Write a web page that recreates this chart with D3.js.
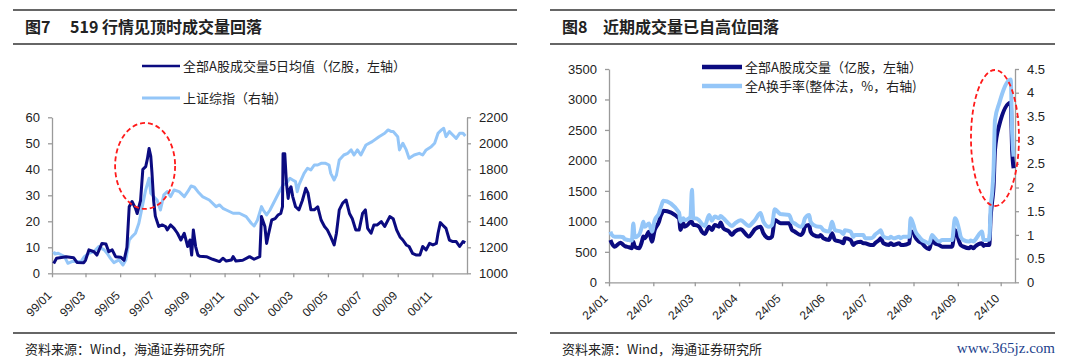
<!DOCTYPE html>
<html><head><meta charset="utf-8">
<script src="https://cdn.jsdelivr.net/npm/d3@7"></script>
<style>
body{margin:0;background:#fff;}
svg{display:block;}
text{font-family:"Liberation Sans",Arial,"Noto Sans CJK SC",sans-serif;fill:#222;}
.cjk{font-family:"Noto Sans CJK SC","Liberation Sans",sans-serif;}
</style></head><body>
<svg id="c" width="1080" height="360"></svg>
<script>
// ---------------- Figure 7 data (1999-2000) ----------------
const volDates = ["1999-01-04","1999-01-09","1999-01-26","1999-02-08","1999-02-14","1999-02-26","1999-03-01","1999-03-07","1999-03-16","1999-03-21","1999-03-30","1999-04-06","1999-04-11","1999-04-17","1999-04-23","1999-05-02","1999-05-08","1999-05-13","1999-05-17","1999-05-22","1999-05-28","1999-05-31","1999-06-06","1999-06-10","1999-06-15","1999-06-18","1999-06-21","1999-06-24","1999-06-26","1999-06-29","1999-07-02","1999-07-08","1999-07-14","1999-07-20","1999-07-23","1999-07-29","1999-08-04","1999-08-10","1999-08-16","1999-08-22","1999-08-28","1999-09-01","1999-09-04","1999-09-07","1999-09-11","1999-09-15","1999-09-18","1999-09-30","1999-10-11","1999-10-23","1999-10-29","1999-11-04","1999-11-13","1999-11-16","1999-11-21","1999-12-03","1999-12-15","1999-12-23","2000-01-02","2000-01-05","2000-01-11","2000-01-14","2000-01-17","2000-01-23","2000-01-29","2000-02-03","2000-02-08","2000-02-11","2000-02-12","2000-02-15","2000-02-18","2000-02-21","2000-02-23","2000-02-26","2000-02-29","2000-03-05","2000-03-11","2000-03-17","2000-03-23","2000-03-27","2000-04-01","2000-04-07","2000-04-13","2000-04-19","2000-04-25","2000-04-30","2000-05-06","2000-05-12","2000-05-16","2000-05-21","2000-05-27","2000-06-02","2000-06-08","2000-06-13","2000-06-19","2000-06-25","2000-07-01","2000-07-06","2000-07-10","2000-07-16","2000-07-21","2000-07-27","2000-08-03","2000-08-09","2000-08-18","2000-08-24","2000-08-30","2000-09-05","2000-09-10","2000-09-16","2000-09-21","2000-09-27","2000-10-04","2000-10-10","2000-10-15","2000-10-21","2000-10-27","2000-11-02","2000-11-08","2000-11-11","2000-11-15","2000-11-19","2000-11-25","2000-12-01","2000-12-07","2000-12-13","2000-12-19","2000-12-25","2000-12-29"];
const volValues = [3.8,5.8,6.4,6.0,4.2,4.1,5.0,9.0,8.3,7.0,11.5,11.3,8.3,9.0,6.4,6.2,5.0,10.0,25.6,27.6,25.0,23.0,28.0,40.0,41.0,44.0,48.0,45.0,39.0,28.0,22.0,18.0,18.6,18.0,16.7,18.6,17.3,15.4,12.8,15.4,10.3,12.8,7.0,16.7,10.3,7.0,6.6,6.4,5.4,4.5,5.8,4.7,5.1,6.4,4.7,5.0,6.4,5.4,6.4,21.8,18.0,11.5,14.7,20.5,21.0,22.4,23.0,25.6,46.0,46.0,34.6,28.8,32.0,33.3,29.5,25.6,24.4,28.0,32.7,30.8,24.4,24.4,25.6,20.5,18.0,16.7,14.0,10.9,15.4,24.4,27.0,28.2,23.0,21.0,16.7,16.7,23.0,24.4,17.3,15.4,18.6,18.6,19.9,18.0,21.8,21.0,16.7,14.0,12.8,10.9,10.3,7.7,7.0,7.0,10.3,9.0,11.5,10.9,11.5,15.4,19.5,18.6,17.3,12.8,12.2,12.2,10.3,12.2,11.8];
const shDates = ["1999-01-04","1999-01-06","1999-01-12","1999-01-18","1999-01-23","1999-01-29","1999-02-05","1999-02-21","1999-02-27","1999-03-07","1999-03-16","1999-03-24","1999-04-03","1999-04-08","1999-04-14","1999-04-20","1999-04-29","1999-05-06","1999-05-11","1999-05-17","1999-05-22","1999-05-28","1999-06-03","1999-06-09","1999-06-15","1999-06-21","1999-06-24","1999-06-29","1999-07-05","1999-07-11","1999-07-17","1999-07-23","1999-07-29","1999-08-04","1999-08-13","1999-08-22","1999-08-28","1999-09-03","1999-09-09","1999-09-15","1999-09-23","1999-10-05","1999-10-17","1999-10-23","1999-10-29","1999-11-04","1999-11-16","1999-11-27","1999-12-09","1999-12-18","1999-12-23","1999-12-29","2000-01-05","2000-01-08","2000-01-14","2000-01-20","2000-01-29","2000-02-07","2000-02-12","2000-02-18","2000-02-24","2000-02-29","2000-03-05","2000-03-08","2000-03-11","2000-03-20","2000-03-26","2000-04-01","2000-04-07","2000-04-13","2000-04-19","2000-04-27","2000-05-03","2000-05-06","2000-05-12","2000-05-16","2000-05-21","2000-05-29","2000-06-05","2000-06-11","2000-06-16","2000-06-22","2000-06-28","2000-07-07","2000-07-18","2000-07-30","2000-08-09","2000-08-15","2000-08-21","2000-08-24","2000-09-01","2000-09-04","2000-09-10","2000-09-16","2000-09-21","2000-09-30","2000-10-09","2000-10-15","2000-10-21","2000-10-30","2000-11-05","2000-11-11","2000-11-17","2000-11-21","2000-11-25","2000-12-01","2000-12-07","2000-12-13","2000-12-19","2000-12-25","2000-12-29"];
const shValues = [1167,1149,1154,1141,1128,1077,1090,1090,1128,1154,1167,1205,1180,1154,1115,1082,1103,1064,1103,1256,1282,1308,1385,1513,1641,1731,1615,1590,1564,1487,1603,1628,1590,1641,1628,1590,1628,1672,1662,1628,1590,1564,1513,1526,1500,1487,1462,1462,1436,1385,1364,1410,1513,1487,1449,1487,1564,1641,1680,1692,1731,1718,1705,1628,1680,1769,1808,1795,1833,1833,1846,1846,1833,1769,1718,1756,1872,1910,1923,1949,1910,1949,1910,1987,2013,2051,2077,2103,2090,2090,2051,1949,2000,1949,1885,1910,1923,1910,1949,1974,2000,2077,2103,2115,2051,2090,2064,2038,2077,2077,2056];
const leftTicks = [0,10,20,30,40,50,60];
const rightTicks7 = [1000,1200,1400,1600,1800,2000,2200];
const xTicks7 = ["1999-01-01","1999-03-01","1999-05-01","1999-07-01","1999-09-01","1999-11-01","2000-01-01","2000-03-01","2000-05-01","2000-07-01","2000-09-01","2000-11-01"];

// ---------------- Figure 8 data (2024) ----------------
const dates8 = ["2024-01-02","2024-01-03","2024-01-05","2024-01-09","2024-01-11","2024-01-12","2024-01-15","2024-01-17","2024-01-18","2024-01-19","2024-01-22","2024-01-24","2024-01-25","2024-01-26","2024-01-29","2024-01-31","2024-02-02","2024-02-05","2024-02-06","2024-02-07","2024-02-08","2024-02-19","2024-02-20","2024-02-21","2024-02-22","2024-02-23","2024-02-26","2024-02-27","2024-02-28","2024-02-29","2024-03-01","2024-03-04","2024-03-06","2024-03-08","2024-03-11","2024-03-13","2024-03-15","2024-03-18","2024-03-19","2024-03-21","2024-03-25","2024-03-27","2024-03-29","2024-04-02","2024-04-08","2024-04-10","2024-04-12","2024-04-16","2024-04-18","2024-04-22","2024-04-24","2024-04-26","2024-04-29","2024-04-30","2024-05-06","2024-05-08","2024-05-10","2024-05-14","2024-05-16","2024-05-17","2024-05-20","2024-05-21","2024-05-23","2024-05-27","2024-05-28","2024-05-30","2024-06-03","2024-06-04","2024-06-05","2024-06-07","2024-06-11","2024-06-13","2024-06-14","2024-06-18","2024-06-20","2024-06-21","2024-06-25","2024-06-27","2024-06-28","2024-07-02","2024-07-04","2024-07-05","2024-07-08","2024-07-09","2024-07-11","2024-07-15","2024-07-16","2024-07-18","2024-07-22","2024-07-23","2024-07-25","2024-07-29","2024-07-30","2024-08-01","2024-08-02","2024-08-05","2024-08-07","2024-08-09","2024-08-12","2024-08-14","2024-08-16","2024-08-19","2024-08-21","2024-08-23","2024-08-26","2024-08-28","2024-08-30","2024-09-02","2024-09-03","2024-09-05","2024-09-09","2024-09-10","2024-09-12","2024-09-13","2024-09-18","2024-09-19","2024-09-20","2024-09-23","2024-09-24","2024-09-25","2024-09-26","2024-09-27","2024-09-30","2024-10-08","2024-10-09","2024-10-10"];
const volume8 = [695,640,585,650,613,596,575,558,667,585,558,667,750,722,830,667,860,995,1077,1132,1176,1050,860,913,968,913,968,995,995,940,940,913,831,793,913,859,940,913,980,886,831,777,831,870,750,804,870,913,804,722,750,1023,980,968,968,859,831,777,831,913,940,831,777,750,777,722,695,750,804,695,667,640,722,695,613,640,667,640,640,613,613,640,695,722,640,613,640,613,640,613,613,640,831,831,750,667,640,585,542,695,640,613,585,585,585,585,859,667,613,585,558,585,558,585,640,596,613,613,1077,1324,1570,2172,2582,2948,2172,1871];
const turnover8 = [1.07,1.00,0.96,0.96,0.95,0.91,0.89,0.88,1.24,0.95,1.00,1.17,1.28,1.17,1.24,1.07,1.31,1.46,1.56,1.65,1.72,1.47,1.28,1.33,1.35,1.31,1.35,1.39,1.95,1.35,1.35,1.31,1.23,1.19,1.42,1.30,1.39,1.35,1.40,1.35,1.23,1.19,1.24,1.31,1.19,1.24,1.31,1.46,1.28,1.17,1.21,1.54,1.46,1.44,1.42,1.28,1.24,1.17,1.24,1.35,1.42,1.28,1.21,1.17,1.17,1.10,1.07,1.17,1.28,1.10,1.07,1.02,1.10,1.07,0.96,1.00,1.00,1.00,0.93,0.93,0.96,1.00,1.07,1.10,0.96,0.93,0.96,0.93,0.96,0.93,0.96,0.96,1.35,1.21,1.10,0.96,0.89,0.86,0.82,1.00,0.93,0.86,0.89,0.89,0.89,0.89,1.35,1.10,0.96,0.89,0.86,0.88,0.86,0.89,1.07,0.89,0.89,0.90,1.60,1.88,2.37,3.42,3.78,4.28,3.14,2.65];
const leftTicks8 = [0,500,1000,1500,2000,2500,3000,3500];
const rightTicks8 = [0,0.5,1,1.5,2,2.5,3,3.5,4,4.5];
const xTicks8 = ["2024-01-01","2024-02-01","2024-03-01","2024-04-01","2024-05-01","2024-06-01","2024-07-01","2024-08-01","2024-09-01","2024-10-01"];

const NAVY = "#0b0b80", LIGHT = "#94c6f8", AXIS = "#9a9a9a";
const parse = d3.timeParse("%Y-%m-%d");
const svg = d3.select("#c");
const fmtInt = d3.format("d"), fmtDec = d3.format("~g");

function styleAxis(g){
  g.select(".domain").attr("stroke", AXIS).attr("stroke-width", 1.3);
  g.selectAll(".tick line").attr("stroke", AXIS).attr("stroke-width", 1.3);
  g.selectAll(".tick text").attr("fill", "#222").style("font-size", "13px")
   .style("font-family", "'Liberation Sans',Arial,sans-serif");
}

function frame(x0, x1, title1, title2, t2x){
  svg.append("line").attr("x1", x0).attr("x2", x1).attr("y1", 10).attr("y2", 10).attr("stroke", "#333").attr("stroke-width", 1.6);
  svg.append("line").attr("x1", x0).attr("x2", x1).attr("y1", 44).attr("y2", 44).attr("stroke", "#333").attr("stroke-width", 1.6);
  svg.append("line").attr("x1", x0).attr("x2", x1).attr("y1", 333).attr("y2", 333).attr("stroke", "#333").attr("stroke-width", 1.6);
  svg.append("text").attr("class", "cjk").attr("x", x0 + 12).attr("y", 33).style("font-size", "16px").style("font-weight", "bold").text(title1);
  svg.append("text").attr("class", "cjk").attr("x", t2x).attr("y", 33).style("font-size", "16px").style("font-weight", "bold").text(title2);
  svg.append("text").attr("class", "cjk").attr("x", x0 + 12).attr("y", 354).style("font-size", "13px").text("资料来源：Wind，海通证券研究所");
}

// ================= Figure 7 =================
frame(13, 517, "图7", "519 行情见顶时成交量回落", 70);
const xL = d3.scaleTime().domain([new Date(1999,0,1), new Date(2001,0,1)]).range([52, 467]);
const yL = d3.scaleLinear().domain([0,60]).range([273.3, 117.3]);
const yL2 = d3.scaleLinear().domain([1000,2200]).range([273.3, 117.3]);

svg.append("g").attr("transform", "translate(52,0)")
  .call(d3.axisLeft(yL).tickValues(leftTicks).tickFormat(fmtInt).tickSize(4).tickSizeOuter(0).tickPadding(8)).call(styleAxis);
svg.append("g").attr("transform", "translate(467,0)")
  .call(d3.axisRight(yL2).tickValues(rightTicks7).tickFormat(fmtInt).tickSize(4).tickSizeOuter(0).tickPadding(8)).call(styleAxis);
const gx7 = svg.append("g").attr("transform", "translate(0,273.3)")
  .call(d3.axisBottom(xL).tickValues(xTicks7.map(parse)).tickSize(4).tickSizeOuter(0).tickFormat(d3.timeFormat("%y/%m"))).call(styleAxis);
gx7.selectAll(".tick text").attr("x", 0).attr("y", 0).attr("dy", "0.35em")
  .attr("transform", "translate(-3,20) rotate(-45)").attr("text-anchor", "end").style("font-size", "12px");

const sh = shDates.map((d,i) => ({d: parse(d), v: shValues[i]}));
const vol = volDates.map((d,i) => ({d: parse(d), v: volValues[i]}));
svg.append("path").datum(sh).attr("fill", "none").attr("stroke", LIGHT).attr("stroke-width", 3)
  .attr("stroke-linejoin", "round").attr("d", d3.line().x(p => xL(p.d)).y(p => yL2(p.v)));
svg.append("path").datum(vol).attr("fill", "none").attr("stroke", NAVY).attr("stroke-width", 3)
  .attr("stroke-linejoin", "round").attr("d", d3.line().x(p => xL(p.d)).y(p => yL(p.v)));

svg.append("ellipse").attr("cx", xL(parse("1999-06-14"))).attr("cy", yL(41.3)).attr("rx", 30).attr("ry", 43)
  .attr("fill", "none").attr("stroke", "#ff1a1a").attr("stroke-width", 1.8).attr("stroke-dasharray", "5,3");

// legend 7
const leg7 = [{t:"全部A股成交量5日均值（亿股，左轴）", c:NAVY, y:66, w:2.5},{t:"上证综指（右轴）", c:LIGHT, y:98, w:3}];
leg7.forEach(l => {
  svg.append("line").attr("x1", 142).attr("x2", 180).attr("y1", l.y).attr("y2", l.y).attr("stroke", l.c).attr("stroke-width", l.w);
  svg.append("text").attr("class", "cjk").attr("x", 183).attr("y", l.y).attr("dy", "0.35em").style("font-size", "13px").text(l.t);
});

// ================= Figure 8 =================
frame(550, 1055, "图8", "近期成交量已自高位回落", 603);
const xR = d3.scaleTime().domain([new Date(2024,0,1), new Date(2024,9,11)]).range([609, 1015]);
const yV = d3.scaleLinear().domain([0,3500]).range([282.3, 69]);
const yT = d3.scaleLinear().domain([0,4.5]).range([282.3, 69]);

svg.append("g").attr("transform", "translate(609,0)")
  .call(d3.axisLeft(yV).tickValues(leftTicks8).tickFormat(fmtInt).tickSize(4).tickSizeOuter(0).tickPadding(8)).call(styleAxis);
svg.append("g").attr("transform", "translate(1015,0)")
  .call(d3.axisRight(yT).tickValues(rightTicks8).tickSize(4).tickSizeOuter(0).tickPadding(8).tickFormat(fmtDec)).call(styleAxis);
const gx8 = svg.append("g").attr("transform", "translate(0,282.3)")
  .call(d3.axisBottom(xR).tickValues(xTicks8.map(parse)).tickSize(4).tickSizeOuter(0).tickFormat(d3.timeFormat("%y/%m"))).call(styleAxis);
gx8.selectAll(".tick text").attr("x", 0).attr("y", 0).attr("dy", "0.35em")
  .attr("transform", "translate(-4,14) rotate(-45)").attr("text-anchor", "end").style("font-size", "12px");

const d8 = dates8.map((d,i) => ({d: parse(d), v: volume8[i], t: turnover8[i]}));
svg.append("path").datum(d8).attr("fill", "none").attr("stroke", NAVY).attr("stroke-width", 4)
  .attr("stroke-linejoin", "round").attr("d", d3.line().curve(d3.curveMonotoneX).x(p => xR(p.d)).y(p => yV(p.v)));
svg.append("path").datum(d8).attr("fill", "none").attr("stroke", LIGHT).attr("stroke-width", 4)
  .attr("stroke-linejoin", "round").attr("d", d3.line().curve(d3.curveMonotoneX).x(p => xR(p.d)).y(p => yT(p.t)));

svg.append("ellipse").attr("cx", xR(parse("2024-09-27"))).attr("cy", yV(2368)).attr("rx", 24).attr("ry", 68)
  .attr("fill", "none").attr("stroke", "#ff1a1a").attr("stroke-width", 1.8).attr("stroke-dasharray", "5,3");

const leg8 = [{t:"全部A股成交量（亿股，左轴）", c:NAVY, y:67},{t:"全A换手率(整体法，%，右轴)", c:LIGHT, y:86}];
leg8.forEach(l => {
  svg.append("line").attr("x1", 702).attr("x2", 742).attr("y1", l.y).attr("y2", l.y).attr("stroke", l.c).attr("stroke-width", 4.5);
  svg.append("text").attr("class", "cjk").attr("x", 745).attr("y", l.y).attr("dy", "0.35em").style("font-size", "13px").text(l.t);
});

svg.append("text").attr("x", 1055).attr("y", 353).attr("text-anchor", "end")
  .style("font-family", "'Liberation Serif','DejaVu Serif',serif").style("font-size", "15px").style("fill", "#1d3f8c").text("www.365jz.com");
</script>
</body></html>
